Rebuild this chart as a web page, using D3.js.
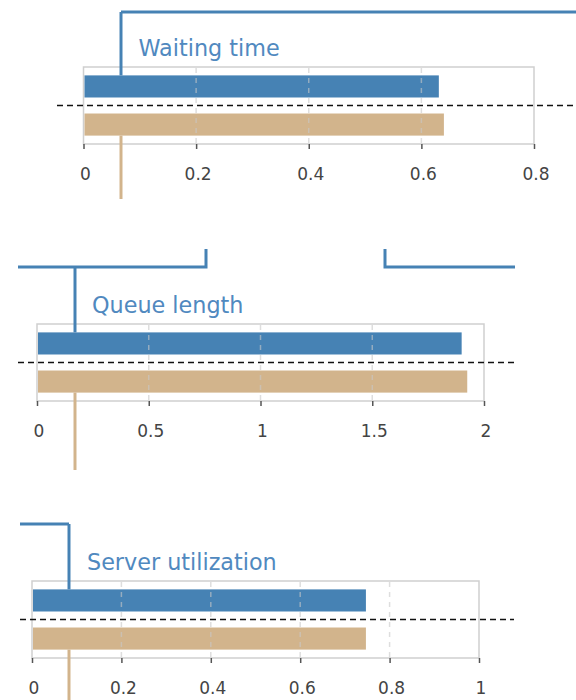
<!DOCTYPE html>
<html>
<head>
<meta charset="utf-8">
<script src="https://cdn.jsdelivr.net/npm/d3@7"></script>
<style>
  html, body { margin: 0; padding: 0; background: #fff; }
  svg { display: block; }
</style>
</head>
<body>
<svg id="chart" width="576" height="700"></svg>
<script>
// ---- data ----
const metrics = ["Waiting time", "Queue length", "Server utilization"];
const seriesBlue = [0.631, 1.90, 0.747];
const seriesTan = [0.640, 1.925, 0.747];
const domainMax = [0.8, 2, 1];
const tickValues = [
  [0, 0.2, 0.4, 0.6, 0.8],
  [0, 0.5, 1, 1.5, 2],
  [0, 0.2, 0.4, 0.6, 0.8, 1]
];
const tickLabels = [
  ["0", "0.2", "0.4", "0.6", "0.8"],
  ["0", "0.5", "1", "1.5", "2"],
  ["0", "0.2", "0.4", "0.6", "0.8", "1"]
];

// ---- layout ----
const panels = [
  { left: 83.5, top: 67, width: 450.5, dashFrom: 57, dashTo: 580, link: 121, tanTo: 199 },
  { left: 37, top: 324, width: 447, dashFrom: 18, dashTo: 515, link: 75, tanTo: 470 },
  { left: 32, top: 581, width: 447, dashFrom: 20, dashTo: 514, link: 69, tanTo: 702 }
];
const boxH = 77;
const blue = "#4682b4", tan = "#d2b48c";

const svg = d3.select("#chart");

// connector lines (flow)
const connectors = [
  "M121,12H580V12",
  "M18,267H206V249",
  "M385,249V267H515",
  "M20,524H69"
];
svg.selectAll("path.conn").data(connectors).join("path")
  .attr("class", "conn")
  .attr("d", d => d)
  .attr("fill", "none")
  .attr("stroke", blue)
  .attr("stroke-width", 3)
  .attr("stroke-linejoin", "miter");

metrics.forEach((name, i) => {
  const p = panels[i];
  const g = svg.append("g").attr("transform", `translate(${p.left},${p.top})`);
  const x = d3.scaleLinear().domain([0, domainMax[i]]).range([0, p.width]);
  const y = d3.scaleBand().domain(["a", "b"]).range([0, boxH]).paddingInner(0.42).paddingOuter(0.22);

  // frame
  g.append("rect")
    .attr("x", 0).attr("y", 0).attr("width", p.width).attr("height", boxH)
    .attr("fill", "none").attr("stroke", "#cfcfcf").attr("stroke-width", 1.5);

  // bars
  const vals = [{ k: "a", v: seriesBlue[i], c: blue }, { k: "b", v: seriesTan[i], c: tan }];
  g.selectAll("rect.bar").data(vals).join("rect")
    .attr("class", "bar")
    .attr("x", x(0) + 1)
    .attr("y", d => y(d.k))
    .attr("width", d => x(d.v) - x(0) - 1)
    .attr("height", y.bandwidth())
    .attr("fill", d => d.c);

  // grid lines (interior ticks)
  const inner = tickValues[i].filter(t => t > 0 && t < domainMax[i]);
  g.selectAll("line.grid").data(inner).join("line")
    .attr("class", "grid")
    .attr("x1", d => x(d)).attr("x2", d => x(d))
    .attr("y1", 1).attr("y2", boxH - 1)
    .attr("stroke", "#c8c8c8").attr("stroke-opacity", 0.6)
    .attr("stroke-width", 1.5)
    .attr("stroke-dasharray", "5,5");

  // axis
  const axis = d3.axisBottom(x)
    .tickValues(tickValues[i])
    .tickFormat((d, j) => tickLabels[i][j])
    .tickSize(5).tickPadding(19);
  const ag = g.append("g").attr("transform", `translate(0,${boxH})`).call(axis);
  ag.select(".domain").remove();
  ag.selectAll(".tick line").attr("stroke", "#555").attr("stroke-width", 1.5);
  ag.selectAll(".tick text")
    .attr("fill", "#444")
    .attr("dx", 1.5)
    .style("font-family", "'DejaVu Sans', Verdana, sans-serif")
    .style("font-size", "17px");

  // center dashed line
  const midY = p.top + (y("a") + y.bandwidth() + y("b")) / 2;
  svg.append("line")
    .attr("x1", p.dashFrom).attr("x2", p.dashTo)
    .attr("y1", midY).attr("y2", midY)
    .attr("stroke", "#111").attr("stroke-width", 1.5)
    .attr("stroke-dasharray", "6,4");

  // blue vertical link into the top bar
  svg.append("line")
    .attr("x1", p.link).attr("x2", p.link)
    .attr("y1", i === 0 ? 12 : (i === 1 ? 267 : 524))
    .attr("y2", p.top + y("a"))
    .attr("stroke", blue).attr("stroke-width", 3);

  // tan vertical link out of bottom bar
  svg.append("line")
    .attr("x1", p.link).attr("x2", p.link)
    .attr("y1", p.top + y("b") + y.bandwidth())
    .attr("y2", p.tanTo)
    .attr("stroke", tan).attr("stroke-width", 3);

  // title
  svg.append("text")
    .attr("x", p.left + 55)
    .attr("y", p.top - 11.5)
    .attr("fill", "#5089bf")
    .style("font-family", "'DejaVu Sans', Verdana, sans-serif")
    .style("font-size", "22.3px")
    .text(name);
});
</script>
</body>
</html>
